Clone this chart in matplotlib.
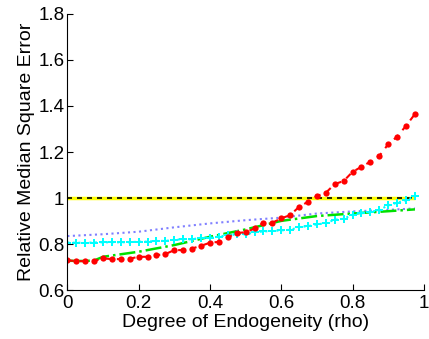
import numpy as np
import matplotlib
matplotlib.use("Agg")
import matplotlib.pyplot as plt

plt.rcParams['font.family'] = ['Liberation Sans', 'DejaVu Sans']

rho = np.arange(40) * 0.025

red_vals = [0.730, 0.726, 0.726, 0.726, 0.738, 0.735, 0.735, 0.737, 0.745, 0.745,
            0.752, 0.757, 0.774, 0.774, 0.781, 0.793, 0.806, 0.810, 0.829, 0.849,
            0.851, 0.868, 0.893, 0.893, 0.912, 0.926, 0.962, 0.984, 1.009, 1.023,
            1.061, 1.074, 1.114, 1.136, 1.158, 1.183, 1.234, 1.267, 1.314, 1.365]

cyan_vals = [0.807, 0.806, 0.806, 0.807, 0.808, 0.808, 0.808, 0.808, 0.811, 0.811,
             0.814, 0.814, 0.819, 0.821, 0.821, 0.828, 0.828, 0.833, 0.838, 0.842,
             0.842, 0.852, 0.855, 0.857, 0.860, 0.862, 0.874, 0.878, 0.886, 0.891,
             0.906, 0.910, 0.928, 0.936, 0.939, 0.949, 0.968, 0.980, 0.990, 1.009]

green_x = [0.0, 0.025, 0.05, 0.075, 0.1, 0.2, 0.3, 0.4, 0.5, 0.6, 0.7, 0.8, 0.9, 0.975]
green_vals = [0.728, 0.727, 0.727, 0.729, 0.745, 0.767, 0.796, 0.832, 0.864, 0.901,
              0.922, 0.933, 0.943, 0.951]

blue_x = [0.0, 0.1, 0.2, 0.3, 0.4, 0.5, 0.6, 0.7, 0.8, 0.9, 0.975]
blue_vals = [0.835, 0.843, 0.854, 0.873, 0.890, 0.904, 0.915, 0.933, 0.942, 0.949, 0.955]

base_x = [0.0, 0.975]
base_vals = [1.0, 1.0]

fig = plt.figure(figsize=(4.29, 3.39), dpi=100)
ax = fig.add_axes([0.157, 0.144, 0.831, 0.815])

ax.plot(base_x, base_vals, color='#ffff00', linewidth=2.5, solid_capstyle='butt')
ax.plot(base_x, base_vals, color='black', linewidth=1.2, linestyle=(0, (3, 3)))
ax.plot(blue_x, blue_vals, color='#8080ff', linewidth=1.5, linestyle=':')
ax.plot(green_x, green_vals, color='#00e000', linewidth=1.8, linestyle='-.')
ax.plot(rho, cyan_vals, color='#00ffff', linewidth=1.5, linestyle=':',
        marker='P', markersize=6, markeredgewidth=0)
ax.plot(rho, red_vals, color='red', linewidth=1.5, linestyle=(0, (3, 3)),
        marker='o', markersize=4.5, markeredgewidth=0)

ax.set_xlim(0, 1)
ax.set_ylim(0.6, 1.8)
ax.set_xticks([0, 0.2, 0.4, 0.6, 0.8, 1])
ax.set_xticklabels(['0', '0.2', '0.4', '0.6', '0.8', '1'])
ax.set_yticks([0.6, 0.8, 1.0, 1.2, 1.4, 1.6, 1.8])
ax.set_yticklabels(['0.6', '0.8', '1', '1.2', '1.4', '1.6', '1.8'])
ax.tick_params(direction='in', length=4, labelsize=13.5)
ax.tick_params(axis='x', pad=3.2)
ax.tick_params(axis='y', pad=2.2)
ax.spines['top'].set_visible(False)
ax.spines['right'].set_visible(False)
ax.set_xlabel('Degree of Endogeneity (rho)', fontsize=14)
ax.set_ylabel('Relative Median Square Error', fontsize=14)
ax.xaxis.set_label_coords(0.5, -0.085)
ax.yaxis.set_label_coords(-0.09, 0.5)

fig.savefig('out.png', dpi=100)
